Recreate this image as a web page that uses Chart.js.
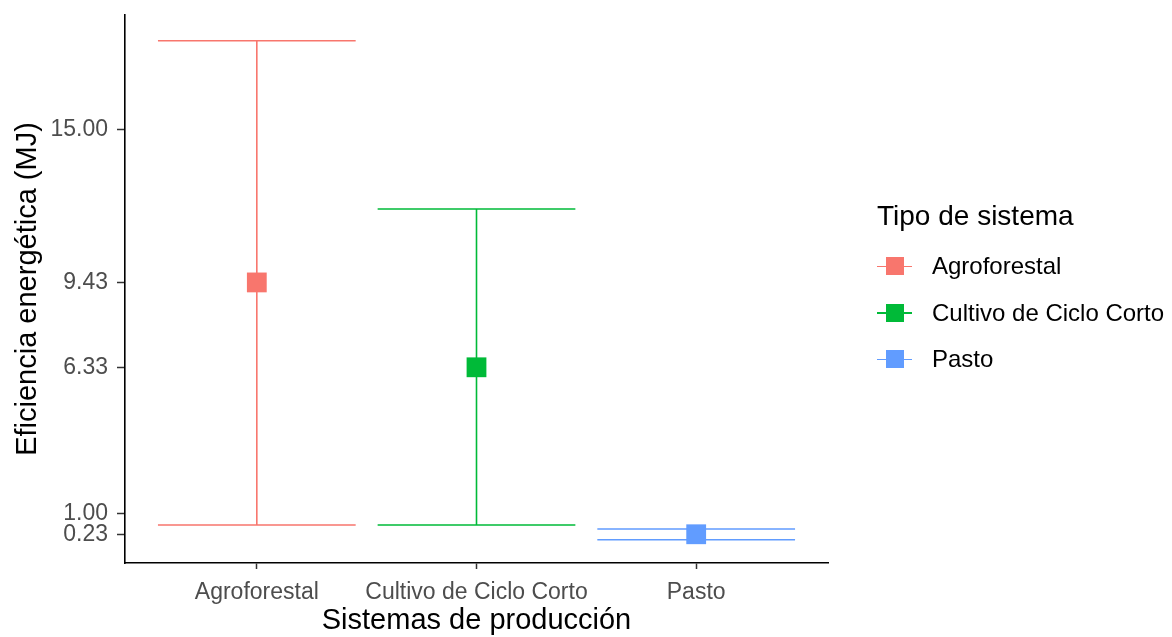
<!DOCTYPE html>
<html>
<head>
<meta charset="utf-8">
<script src="https://cdn.jsdelivr.net/npm/chart.js@4.4.1/dist/chart.umd.min.js"></script>
<style>
  html, body { margin: 0; padding: 0; background: #fff; }
  #wrap { position: relative; width: 1172px; height: 637px; }
  #c { display: block; }
  #leyenda { position: absolute; left: 877px; top: 196px; font-family: "Liberation Sans", Arial, sans-serif; color: #000; }
  #leyenda .titulo { font-size: 28px; line-height: 40px; margin-bottom: 7px; }
  #leyenda .item { display: flex; align-items: center; height: 46.5px; }
  #leyenda .clave { position: relative; width: 35px; height: 20px; margin-right: 20px; }
  #leyenda .clave .linea { position: absolute; left: 0; right: 0; top: 9.25px; height: 1.5px; }
  #leyenda .clave .cuadro { position: absolute; left: 8.5px; top: 1px; width: 18px; height: 18px; }
  #leyenda .texto { font-size: 24px; }
</style>
</head>
<body>
<div id="wrap">
  <canvas id="c" width="1172" height="637"></canvas>
  <div id="leyenda"></div>
</div>
<script>
// Sistemas de producción y su eficiencia energética (MJ)
const sistemas = ['Agroforestal', 'Cultivo de Ciclo Corto', 'Pasto'];
const media = [9.43, 6.33, 0.23];
const limiteInferior = [0.57, 0.57, 0.03];
const limiteSuperior = [18.26, 12.11, 0.42];
const colores = ['#F8766D', '#00BA38', '#619CFF'];
const marcasY = [0.23, 1.00, 6.33, 9.43, 15.00];

const FUENTE = '"Liberation Sans", Arial, sans-serif';

// Barras de error (líneas horizontales en los extremos y vertical central)
const barrasError = {
  id: 'barrasError',
  beforeDatasetsDraw(chart) {
    const { ctx, scales: { x, y } } = chart;
    ctx.save();
    ctx.lineWidth = 1.6;
    sistemas.forEach((s, i) => {
      const cx = x.getPixelForValue(i + 1);
      const x0 = x.getPixelForValue(i + 1 - 0.45);
      const x1 = x.getPixelForValue(i + 1 + 0.45);
      const yLo = y.getPixelForValue(limiteInferior[i]);
      const yHi = y.getPixelForValue(limiteSuperior[i]);
      ctx.strokeStyle = colores[i];
      ctx.beginPath();
      ctx.moveTo(x0, yHi); ctx.lineTo(x1, yHi);
      ctx.moveTo(x0, yLo); ctx.lineTo(x1, yLo);
      ctx.moveTo(cx, yHi); ctx.lineTo(cx, yLo);
      ctx.stroke();
    });
    ctx.restore();
  }
};

const datasets = sistemas.map((s, i) => ({
  label: s,
  data: [{ x: i + 1, y: media[i] }],
  pointStyle: 'rect',
  pointRadius: 14,
  pointHoverRadius: 14,
  backgroundColor: colores[i],
  borderColor: colores[i],
  borderWidth: 0
}));

new Chart(document.getElementById('c'), {
  type: 'scatter',
  data: { datasets },
  plugins: [barrasError],
  options: {
    responsive: false,
    devicePixelRatio: 1,
    animation: false,
    layout: { padding: { top: 15, right: 344, left: 0, bottom: 0 } },
    plugins: { legend: { display: false }, tooltip: { enabled: false } },
    scales: {
      x: {
        type: 'linear',
        min: 0.4,
        max: 3.6,
        afterBuildTicks: s => { s.ticks = sistemas.map((_, i) => ({ value: i + 1 })); },
        afterFit: s => { s.height = 74; s.paddingLeft = 0; s.paddingRight = 0; },
        ticks: {
          autoSkip: false, maxRotation: 0, minRotation: 0,
          padding: 10,
          color: '#4D4D4D',
          font: { family: FUENTE, size: 23 },
          callback: v => sistemas[v - 1]
        },
        grid: { drawOnChartArea: false, drawTicks: true, tickLength: 6, tickColor: '#333', tickWidth: 1.5 },
        border: { display: true, color: '#000', width: 1.6 },
        title: { display: true, text: 'Sistemas de producción', color: '#000', font: { family: FUENTE, size: 29, lineHeight: 1.1 }, padding: { top: 0, bottom: 0 } }
      },
      y: {
        type: 'linear',
        min: -0.82,
        max: 19.2,
        afterBuildTicks: s => { s.ticks = marcasY.map(v => ({ value: v })); },
        afterFit: s => { s.width = 125; s.paddingTop = 0; s.paddingBottom = 0; },
        ticks: {
          padding: 9,
          color: '#4D4D4D',
          font: { family: FUENTE, size: 23 },
          callback: v => Number(v).toFixed(2)
        },
        grid: { drawOnChartArea: false, drawTicks: true, tickLength: 8, tickColor: '#333', tickWidth: 1.5 },
        border: { display: true, color: '#000', width: 1.6 },
        title: { display: true, text: 'Eficiencia energética (MJ)', color: '#000', font: { family: FUENTE, size: 29 }, padding: { top: 11, bottom: 0 } }
      }
    }
  }
});

// Leyenda "Tipo de sistema"
const leyenda = document.getElementById('leyenda');
const titulo = document.createElement('div');
titulo.className = 'titulo';
titulo.textContent = 'Tipo de sistema';
leyenda.appendChild(titulo);
sistemas.forEach((s, i) => {
  const item = document.createElement('div');
  item.className = 'item';
  const clave = document.createElement('div');
  clave.className = 'clave';
  const linea = document.createElement('div');
  linea.className = 'linea';
  linea.style.background = colores[i];
  const cuadro = document.createElement('div');
  cuadro.className = 'cuadro';
  cuadro.style.background = colores[i];
  clave.appendChild(linea);
  clave.appendChild(cuadro);
  const texto = document.createElement('span');
  texto.className = 'texto';
  texto.textContent = s;
  item.appendChild(clave);
  item.appendChild(texto);
  leyenda.appendChild(item);
});
</script>
</body>
</html>
